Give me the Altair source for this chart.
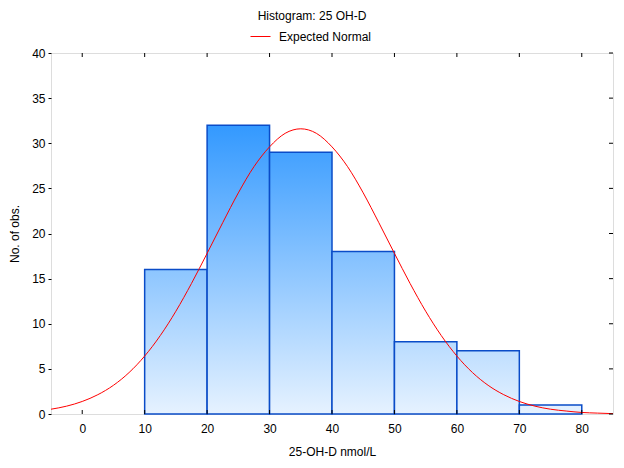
import altair as alt
import pandas as pd

# Histogram bins (25-OH-D nmol/L) and counts
bin_start = [10, 20, 30, 40, 50, 60, 70]
bin_end = [20, 30, 40, 50, 60, 70, 80]
counts = [16, 32, 29, 18, 8, 7, 1]

# Expected normal curve
curve_x = [-5, -2.5, 0, 2.5, 5, 7.5, 10, 12.5, 15, 17.5, 20, 22.5, 25, 27.5, 30, 32.5, 35,
           37.5, 40, 42.5, 45, 47.5, 50, 52.5, 55, 57.5, 60, 62.5, 65, 67.5, 70, 72.5, 75,
           77.5, 80, 82.5, 85]
curve_y = [0.53, 0.87, 1.39, 2.14, 3.18, 4.59, 6.42, 8.69, 11.39, 14.47, 17.8, 21.2, 24.5,
           27.4, 29.6, 31.1, 31.6, 31.1, 29.6, 27.4, 24.5, 21.2, 17.8, 14.47, 11.39, 8.69,
           6.42, 4.59, 3.18, 2.14, 1.39, 0.87, 0.53, 0.33, 0.17, 0.1, 0.04]

x_ticks = [0, 10, 20, 30, 40, 50, 60, 70, 80]
y_ticks = [0, 5, 10, 15, 20, 25, 30, 35, 40]

FONT = "Liberation Sans"
W, H = 562, 361
YMAX = 40

xscale = alt.Scale(domain=[-5, 85], nice=False, zero=False)
yscale = alt.Scale(domain=[0, YMAX], nice=False)

xaxis = alt.Axis(values=x_ticks, ticks=False, domain=False, grid=False, labelPadding=9,
                 labelFont=FONT, labelFontSize=12, labelColor="black",
                 title="25-OH-D nmol/L", titleFont=FONT, titleFontSize=12,
                 titleFontWeight="normal", titleColor="black", titlePadding=12)
yaxis = alt.Axis(values=y_ticks, tickSize=3, tickColor="black", domain=False, grid=False,
                 labelPadding=3, labelFont=FONT, labelFontSize=12, labelColor="black",
                 title="No. of obs.", titleFont=FONT, titleFontSize=12,
                 titleFontWeight="normal", titleColor="black", titlePadding=10)

bars_df = pd.DataFrame({"x0": bin_start, "x1": bin_end, "n": counts})

layers = []
for s, e, c in zip(bin_start, bin_end, counts):
    grad = alt.LinearGradient(
        gradient="linear",
        stops=[alt.GradientStop(offset=0, color="#1f8bff"),
               alt.GradientStop(offset=0.2, color="#3399ff"),
               alt.GradientStop(offset=1, color="#e6f2ff")],
        x1=0, x2=0, y1=1 - YMAX / c, y2=1)
    layer = alt.Chart(bars_df).transform_filter(alt.datum.x0 == s).mark_bar(
        fill=grad, stroke="#0a4cc8", strokeWidth=1.5
    ).encode(
        x=alt.X("x0:Q", scale=xscale, axis=xaxis),
        x2="x1:Q",
        y=alt.Y("n:Q", scale=yscale, axis=yaxis),
        y2=alt.datum(0),
    )
    layers.append(layer)

curve_df = pd.DataFrame({"x": curve_x, "y": curve_y, "series": "Expected Normal"})
curve = alt.Chart(curve_df).mark_line(strokeWidth=1, interpolate="monotone", clip=True).encode(
    x=alt.X("x:Q", scale=xscale, axis=xaxis),
    y=alt.Y("y:Q", scale=yscale, axis=yaxis),
    color=alt.Color("series:N", scale=alt.Scale(domain=["Expected Normal"], range=["#ff0000"]),
                    legend=alt.Legend(title=None, orient="none", legendX=199, legendY=-27,
                                      symbolType="stroke", symbolSize=400, symbolStrokeWidth=1,
                                      labelFont=FONT, labelFontSize=12, labelColor="black",
                                      labelOffset=8, padding=0)),
)

xt_df = pd.DataFrame({"t": x_ticks})
yt_df = pd.DataFrame({"t": y_ticks})
bottom_ticks = alt.Chart(xt_df).mark_rule(color="black", strokeWidth=1).encode(
    x=alt.X("t:Q", scale=xscale, axis=xaxis), y=alt.value(H), y2=alt.value(H - 4))
top_ticks = alt.Chart(xt_df).mark_rule(color="black", strokeWidth=1).encode(
    x=alt.X("t:Q", scale=xscale, axis=xaxis), y=alt.value(0), y2=alt.value(4))
right_ticks = alt.Chart(yt_df).mark_rule(color="black", strokeWidth=1).encode(
    y=alt.Y("t:Q", scale=yscale, axis=yaxis), x=alt.value(W), x2=alt.value(W - 4))

chart = alt.layer(*layers, curve, bottom_ticks, top_ticks, right_ticks).properties(
    width=W, height=H,
    title=alt.TitleParams("Histogram: 25 OH-D", font=FONT, fontSize=12, fontWeight="normal",
                          color="black", anchor="middle", offset=3, dx=-20),
    autosize=alt.AutoSizeParams(type="none"),
    padding={"left": 43, "top": 45, "right": 3, "bottom": 46},
).configure_view(stroke="black", strokeWidth=1.5).configure(background="white")

chart.save("out.html", embed_options={"renderer": "svg", "actions": False})
